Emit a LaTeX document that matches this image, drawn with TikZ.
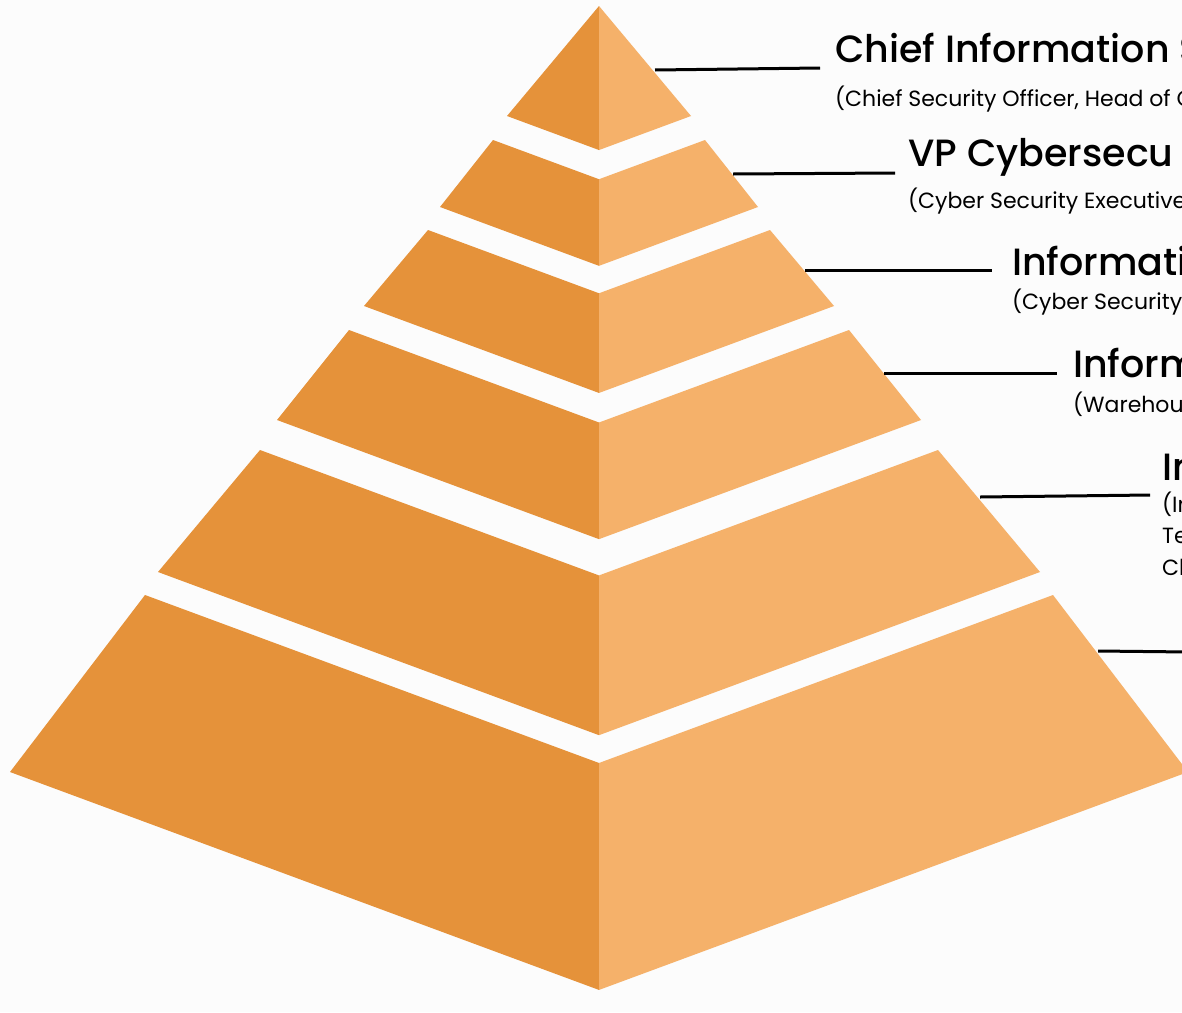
\documentclass[tikz,border=0pt]{standalone}
\usepackage{fontspec}
\setmainfont{Poppins}
\newfontfamily\headfont{Poppins}[UprightFont=* Medium]
\definecolor{pyrdark}{RGB}{229,146,58}
\definecolor{pyrlight}{RGB}{245,177,106}
\definecolor{paper}{RGB}{252,252,252}
\begin{document}
\begin{tikzpicture}[x=1pt,y=-1pt,
  title/.style={anchor=base west,inner sep=0pt,font=\headfont\fontsize{38}{40}\selectfont},
  sub/.style={anchor=base west,inner sep=0pt,font=\fontsize{22}{31}\selectfont},
  lead/.style={line width=3pt,black}]
 \fill[paper] (0,0) rectangle (1182,1012);
 \useasboundingbox (0,0) rectangle (1182,1012);
 % layers: top corner / bottom corner of the left face
 \foreach \tx/\ty/\bx/\by in {599/6/507/116,493/140/440/207,428/230/364/306,
     349/330/277/420,260/450/158/572,145/595/10/772}{
   \pgfmathsetmacro\tc{\ty+0.37*(599-\tx)}
   \pgfmathsetmacro\bc{\by+0.37*(599-\bx)}
   \fill[pyrdark] (\tx,\ty)--(599,\tc)--(599,\bc)--(\bx,\by)--cycle;
   \fill[pyrlight] (1198-\tx,\ty)--(599,\tc)--(599,\bc)--(1198-\bx,\by)--cycle;
 }
 % leader lines
 \coordinate (a1) at (655,70);  \coordinate (b1) at (820,68);
 \coordinate (a2) at (733,174); \coordinate (b2) at (895,173);
 \coordinate (a3) at (805,270); \coordinate (b3) at (992,270);
 \coordinate (a4) at (884,373); \coordinate (b4) at (1057,373);
 \coordinate (a5) at (980,497); \coordinate (b5) at (1150,495);
 \coordinate (a6) at (1098,651); \coordinate (b6) at (1190,652);
 \foreach \i in {1,...,6}{\draw[lead] (a\i)--(b\i);}
 % labels
 \node[title] (t1) at (835,62) {Chief Information S};
 \node[sub] (s1) at (835,106) {(Chief Security Officer, Head of C};
 \node[title] (t2) at (908,166) {VP Cybersecu};
 \node[sub] (s2) at (908,208) {(Cyber Security Executive};
 \node[title] (t3) at (1012,275) {Informati};
 \node[sub] (s3) at (1012,309) {(Cyber Security};
 \node[title] (t4) at (1073,377) {Inform};
 \node[sub] (s4) at (1073,412) {(Warehou};
 \node[title] (t5) at (1162,480) {In};
 \node[sub] (s5) at (1162,512) {(In};
 \node[sub] (s5b) at (1162,543) {Te};
 \node[sub] (s5c) at (1162,575) {Cl};
\end{tikzpicture}
\end{document}
